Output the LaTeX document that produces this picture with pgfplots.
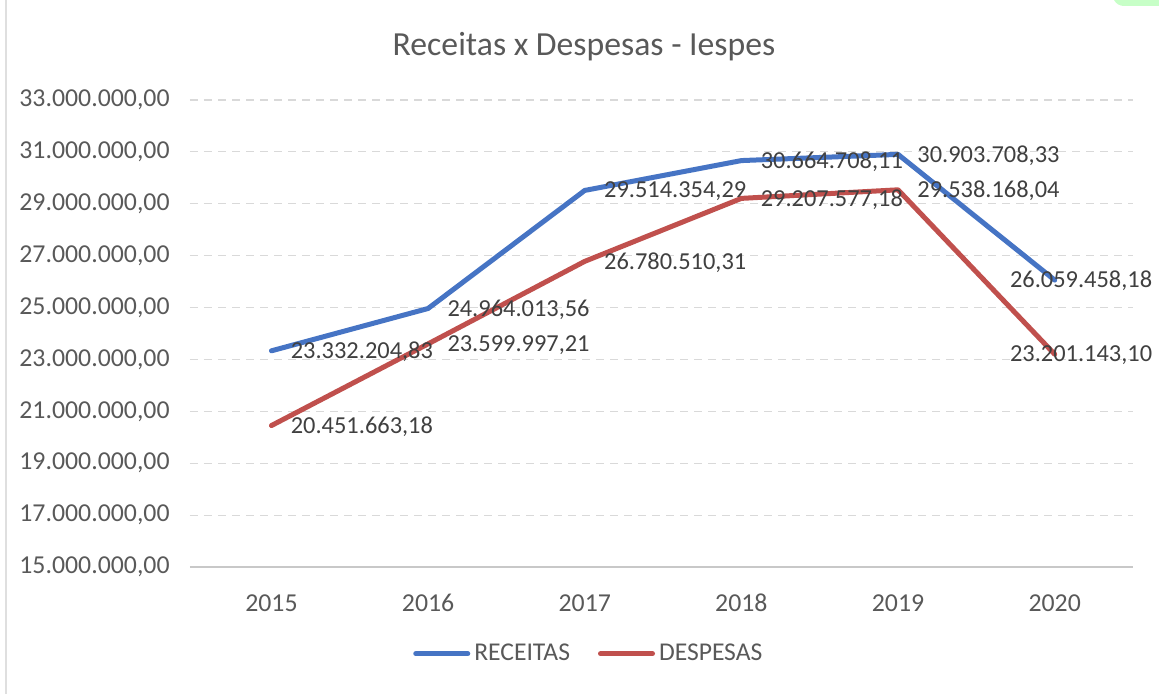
\documentclass[border=0pt]{standalone}
\usepackage{pgfplots}
\pgfplotsset{compat=1.18}
\usepackage{pgfplotstable}
\usepackage{fontspec}
\setmainfont{Carlito}
\definecolor{rec}{RGB}{70,116,196}
\definecolor{desp}{RGB}{192,80,77}
\definecolor{tickc}{RGB}{89,89,89}
\definecolor{labc}{RGB}{64,64,64}
\definecolor{gridc}{RGB}{217,217,217}
\definecolor{axc}{RGB}{200,200,200}

\pgfplotstableread{
x y label
0 23332204.83 23.332.204,83
1 24964013.56 24.964.013,56
2 29514354.29 29.514.354,29
3 30664708.11 30.664.708,11
4 30903708.33 30.903.708,33
5 26059458.18 26.059.458,18
}\receitas

\pgfplotstableread{
x y label
0 20451663.18 20.451.663,18
1 23599997.21 23.599.997,21
2 26780510.31 26.780.510,31
3 29207577.18 29.207.577,18
4 29538168.04 29.538.168,04
5 23201143.10 23.201.143,10
}\despesas

\begin{document}
\begin{tikzpicture}
\begin{axis}[
  name=ax, at={(0,0)}, anchor=south west,
  scale only axis, width=471.5pt, height=233.5pt,
  clip=false,
  xmin=-0.52, xmax=5.5, ymin=15000000, ymax=33000000,
  xtick={0,1,2,3,4,5}, xticklabels={2015,2016,2017,2018,2019,2020},
  ytick={15000000,17000000,19000000,21000000,23000000,25000000,27000000,29000000,31000000,33000000},
  scaled y ticks=false,
  yticklabel={\pgfmathprintnumber[fixed,fixed zerofill,precision=2,1000 sep={.},use comma,assume math mode=true]{\tick}},
  ymajorgrids, grid style={gridc, dash pattern=on 4pt off 3pt, line width=0.6pt},
  axis line style={draw=none}, major tick length=0,
  tick label style={font=\fontsize{12.9}{14}\selectfont, text=tickc},
  yticklabel style={anchor=east, inner sep=0pt, xshift=-10pt},
  xticklabel style={anchor=center, inner sep=0pt, yshift=-18pt},
  legend style={at={(axis description cs:0.424,-0.186)}, anchor=center, draw=none, fill=none,
    legend columns=2, font=\fontsize{12.8}{14}\selectfont, text=tickc,
    /tikz/every even column/.append style={column sep=12pt}},
  legend image code/.code={\draw[#1, line width=2.5pt, line cap=round] (0pt,0pt) -- (26pt,0pt);},
  point meta=explicit symbolic,
  lab/.style={draw=none, mark=none, forget plot, nodes near coords,
    nodes near coords style={anchor=west, inner sep=0pt, yshift=-0.5pt,
      font=\fontsize{12.2}{14}\selectfont, text=labc}},
]
\addplot[rec, line width=2.5pt, line join=round, line cap=round] table[x=x, y=y, meta=label] {\receitas};
\addlegendentry{RECEITAS}
\addplot[desp, line width=2.5pt, line join=round, line cap=round] table[x=x, y=y, meta=label] {\despesas};
\addlegendentry{DESPESAS}
% data labels, right of the points
\addplot[lab, restrict expr to domain={\coordindex}{0:4}, every node near coord/.append style={xshift=9.5pt}] table[x=x, y=y, meta=label] {\receitas};
\addplot[lab, restrict expr to domain={\coordindex}{0:4}, every node near coord/.append style={xshift=9.5pt}] table[x=x, y=y, meta=label] {\despesas};
% last labels, pulled back inside the chart
\addplot[lab, restrict expr to domain={\coordindex}{5:5}, every node near coord/.append style={xshift=-22.5pt}] table[x=x, y=y, meta=label] {\receitas};
\addplot[lab, restrict expr to domain={\coordindex}{5:5}, every node near coord/.append style={xshift=-22.5pt}] table[x=x, y=y, meta=label] {\despesas};
\end{axis}
\draw[axc, line width=0.7pt] (ax.south west) -- (ax.south east);
\node[font=\fontsize{16.85}{19}\selectfont, text=tickc] at ([shift={(197pt,260pt)}]ax.south west) {Receitas x Despesas - Iespes};
\draw[gray!25, line width=0.8pt] ([shift={(-92pt,-63.5pt)}]ax.south west) -- ++(0,347pt);
\fill[green!22] ([shift={(462pt,283.5pt)}]ax.south west) .. controls +(1pt,-2pt) and +(-2pt,0pt) .. ++(5pt,-3pt) -- ++(17.5pt,0) -- ++(0,3pt) -- cycle;
\pgfresetboundingbox
\useasboundingbox ([shift={(-95pt,-63.5pt)}]ax.south west) rectangle ([shift={(484.5pt,283.5pt)}]ax.south west);
\end{tikzpicture}
\end{document}
